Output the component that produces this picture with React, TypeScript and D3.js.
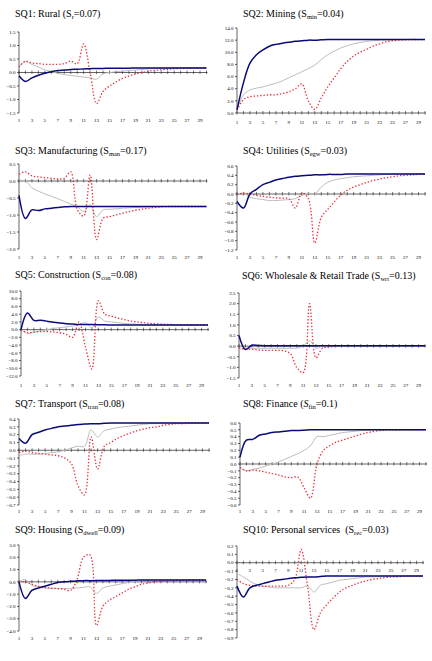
import React from "react";
import * as d3 from "d3";

// quarters after the shock
const periods = d3.range(1, 31);
const periodLabels = [1, 3, 5, 7, 9, 11, 13, 15, 17, 19, 21, 23, 25, 27, 29];

// SQ1 Rural
const ruralTicks = [1.5, 1.0, 0.5, 0.0, -0.5, -1.0, -1.5];
const ruralSolid = [-0.12, -0.33, -0.2, -0.1, -0.03, 0.03, 0.07, 0.09, 0.11, 0.12, 0.13, 0.14, 0.15, 0.15, 0.16, 0.16, 0.16, 0.16, 0.17, 0.17, 0.17, 0.17, 0.17, 0.17, 0.17, 0.17, 0.17, 0.17, 0.17, 0.17];
const ruralGrey = [0.22, 0.4, 0.3, 0.2, 0.1, 0.03, -0.03, -0.08, -0.11, -0.14, -0.17, -0.2, -0.25, -0.05, 0.0, 0.03, 0.05, 0.07, 0.09, 0.11, 0.13, 0.15, 0.16, 0.16, 0.17, 0.17, 0.17, 0.17, 0.17, 0.17];
const ruralDotted = [0.2, 0.42, 0.35, 0.33, 0.3, 0.3, 0.3, 0.33, 0.42, 0.32, 1.06, 0.0, -1.15, -0.7, -0.5, -0.35, -0.22, -0.13, -0.06, 0.0, 0.05, 0.08, 0.1, 0.12, 0.14, 0.15, 0.16, 0.17, 0.17, 0.17];

// SQ2 Mining
const miningTicks = [14, 12, 10, 8, 6, 4, 2, 0];
const miningSolid = [0.5, 5.0, 8.2, 9.6, 10.4, 11.0, 11.3, 11.5, 11.65, 11.8, 11.9, 12.0, 12.0, 12.05, 12.1, 12.1, 12.1, 12.1, 12.1, 12.1, 12.1, 12.1, 12.1, 12.1, 12.1, 12.1, 12.1, 12.1, 12.1, 12.1];
const miningGrey = [0.5, 3.0, 3.8, 4.1, 4.3, 4.6, 4.9, 5.3, 5.8, 6.3, 6.8, 7.3, 7.9, 8.8, 9.6, 10.2, 10.7, 11.1, 11.4, 11.6, 11.8, 11.9, 12.0, 12.0, 12.05, 12.1, 12.1, 12.1, 12.1, 12.1];
const miningDotted = [0.5, 2.2, 2.7, 2.8, 2.9, 3.0, 3.0, 3.2, 3.5, 4.0, 4.8, 2.0, 0.6, 2.5, 4.3, 5.8, 7.3, 8.5, 9.4, 10.0, 10.5, 11.0, 11.4, 11.7, 11.9, 12.0, 12.05, 12.1, 12.1, 12.1];

// SQ3 Manufacturing
const manufTicks = [0.5, 0.0, -0.5, -1.0, -1.5, -2.0];
const manufSolid = [-0.42, -1.1, -0.85, -0.87, -0.82, -0.8, -0.78, -0.76, -0.75, -0.75, -0.75, -0.75, -0.75, -0.75, -0.75, -0.75, -0.75, -0.75, -0.75, -0.75, -0.75, -0.75, -0.75, -0.75, -0.75, -0.75, -0.75, -0.75, -0.75, -0.75];
const manufGrey = [0.02, 0.0, -0.2, -0.3, -0.38, -0.45, -0.52, -0.6, -0.68, -0.75, -0.9, -0.7, -1.05, -0.85, -0.83, -0.82, -0.8, -0.79, -0.78, -0.77, -0.76, -0.75, -0.75, -0.75, -0.75, -0.75, -0.75, -0.75, -0.75, -0.75];
const manufDotted = [0.2, 0.27, 0.15, 0.12, 0.1, 0.08, 0.06, 0.08, 0.27, -0.83, -1.03, 0.18, -1.72, -1.1, -1.05, -1.0, -0.95, -0.9, -0.86, -0.83, -0.8, -0.78, -0.76, -0.75, -0.75, -0.75, -0.75, -0.75, -0.75, -0.75];

// SQ4 Utilities
const utilTicks = [0.6, 0.4, 0.2, 0.0, -0.2, -0.4, -0.6, -0.8, -1.0, -1.2];
const utilSolid = [-0.16, -0.3, 0.0, 0.1, 0.2, 0.25, 0.3, 0.33, 0.36, 0.38, 0.39, 0.4, 0.41, 0.41, 0.42, 0.42, 0.42, 0.43, 0.43, 0.43, 0.43, 0.43, 0.43, 0.43, 0.43, 0.43, 0.43, 0.43, 0.43, 0.43];
const utilGrey = [-0.02, 0.02, -0.07, -0.1, -0.12, -0.14, -0.14, -0.13, -0.12, -0.1, -0.03, 0.02, 0.0, 0.15, 0.25, 0.3, 0.33, 0.35, 0.37, 0.38, 0.39, 0.4, 0.41, 0.42, 0.42, 0.43, 0.43, 0.43, 0.43, 0.43];
const utilDotted = [-0.02, 0.02, 0.0, -0.03, -0.05, -0.07, -0.08, -0.09, -0.1, -0.3, 0.02, -0.1, -1.05, -0.5, -0.33, -0.17, -0.02, 0.08, 0.15, 0.2, 0.25, 0.29, 0.32, 0.35, 0.37, 0.39, 0.4, 0.41, 0.42, 0.43];

// SQ5 Construction
const constrTicks = [10, 8, 6, 4, 2, 0, -2, -4, -6, -8, -10, -12];
const constrSolid = [0.0, 4.3, 2.4, 2.4, 2.2, 1.9, 1.7, 1.55, 1.45, 1.35, 1.3, 1.3, 1.25, 1.25, 1.2, 1.2, 1.2, 1.2, 1.2, 1.2, 1.2, 1.2, 1.2, 1.2, 1.2, 1.2, 1.2, 1.2, 1.2, 1.2];
const constrGrey = [0.0, -1.0, -0.7, -0.3, 0.0, 0.3, 0.5, 0.7, 0.9, 1.3, 1.8, 0.5, 3.3, 2.2, 2.0, 1.8, 1.6, 1.5, 1.4, 1.3, 1.25, 1.2, 1.2, 1.2, 1.2, 1.2, 1.2, 1.2, 1.2, 1.2];
const constrDotted = [0.0, -0.8, -0.6, -0.5, -0.5, -0.6, -0.8, -1.2, -2.0, 2.0, -4.5, -10.2, 7.5, 4.0, 3.5, 3.0, 2.6, 2.2, 2.0, 1.8, 1.6, 1.5, 1.4, 1.35, 1.3, 1.25, 1.2, 1.2, 1.2, 1.2];

// SQ6 Wholesale & Retail Trade
const tradeTicks = [2.5, 2.0, 1.5, 1.0, 0.5, 0.0, -0.5, -1.0, -1.5];
const tradeSolid = [0.5, -0.16, 0.04, 0.03, 0.02, 0.02, 0.02, 0.02, 0.02, 0.02, 0.02, 0.02, 0.02, 0.02, 0.02, 0.02, 0.02, 0.02, 0.02, 0.02, 0.02, 0.02, 0.02, 0.02, 0.02, 0.02, 0.02, 0.02, 0.02, 0.02];
const tradeGrey = [-0.15, -0.1, -0.1, -0.1, -0.1, -0.1, -0.1, -0.1, -0.1, -0.1, 0.0, 0.25, -0.1, 0.0, 0.02, 0.02, 0.02, 0.02, 0.02, 0.02, 0.02, 0.02, 0.02, 0.02, 0.02, 0.02, 0.02, 0.02, 0.02, 0.02];
const tradeDotted = [-0.08, -0.15, -0.15, -0.18, -0.2, -0.2, -0.2, -0.22, -0.35, -1.0, -1.25, 2.0, -0.55, -0.1, -0.05, 0.0, 0.02, 0.02, 0.02, 0.02, 0.02, 0.02, 0.02, 0.02, 0.02, 0.02, 0.02, 0.02, 0.02, 0.02];

// SQ7 Transport
const transTicks = [0.4, 0.3, 0.2, 0.1, 0.0, -0.1, -0.2, -0.3, -0.4, -0.5, -0.6, -0.7];
const transSolid = [0.15, 0.09, 0.2, 0.23, 0.26, 0.28, 0.3, 0.31, 0.32, 0.33, 0.335, 0.34, 0.34, 0.345, 0.35, 0.35, 0.35, 0.35, 0.35, 0.35, 0.35, 0.35, 0.35, 0.35, 0.35, 0.35, 0.35, 0.35, 0.35, 0.35];
const transGrey = [-0.07, -0.05, -0.05, -0.05, -0.04, -0.03, -0.02, 0.0, 0.03, 0.05, 0.05, 0.26, 0.17, 0.25, 0.27, 0.29, 0.3, 0.31, 0.32, 0.33, 0.34, 0.34, 0.35, 0.35, 0.35, 0.35, 0.35, 0.35, 0.35, 0.35];
const transDotted = [-0.03, -0.01, -0.03, -0.04, -0.05, -0.06, -0.07, -0.1, -0.17, -0.45, -0.57, 0.17, -0.24, 0.05, 0.1, 0.15, 0.19, 0.22, 0.25, 0.27, 0.29, 0.3, 0.32, 0.33, 0.34, 0.34, 0.35, 0.35, 0.35, 0.35];

// SQ8 Finance
const finTicks = [0.6, 0.5, 0.4, 0.3, 0.2, 0.1, 0.0, -0.1, -0.2, -0.3, -0.4, -0.5, -0.6];
const finSolid = [0.1, 0.35, 0.36, 0.42, 0.44, 0.46, 0.47, 0.48, 0.49, 0.49, 0.495, 0.5, 0.5, 0.5, 0.5, 0.5, 0.5, 0.5, 0.5, 0.5, 0.5, 0.5, 0.5, 0.5, 0.5, 0.5, 0.5, 0.5, 0.5, 0.5];
const finGrey = [-0.05, -0.1, -0.08, -0.06, -0.03, 0.0, 0.03, 0.07, 0.11, 0.15, 0.2, 0.27, 0.4, 0.4, 0.42, 0.44, 0.46, 0.47, 0.48, 0.49, 0.49, 0.5, 0.5, 0.5, 0.5, 0.5, 0.5, 0.5, 0.5, 0.5];
const finDotted = [-0.05, -0.1, -0.09, -0.1, -0.12, -0.14, -0.16, -0.19, -0.2, -0.19, -0.35, -0.5, 0.0, 0.2, 0.27, 0.32, 0.35, 0.38, 0.41, 0.44, 0.46, 0.48, 0.49, 0.5, 0.5, 0.5, 0.5, 0.5, 0.5, 0.5];

// SQ9 Housing
const housTicks = [3, 2, 1, 0, -1, -2, -3, -4];
const housSolid = [0.0, -1.35, -0.7, -0.5, -0.35, -0.2, -0.05, 0.0, 0.05, 0.08, 0.1, 0.1, 0.11, 0.12, 0.12, 0.13, 0.13, 0.14, 0.14, 0.15, 0.15, 0.15, 0.15, 0.15, 0.15, 0.15, 0.15, 0.15, 0.15, 0.15];
const housGrey = [0.0, 0.2, -0.3, -0.4, -0.5, -0.55, -0.55, -0.55, -0.55, -0.5, -0.45, -0.4, -0.95, -0.5, -0.35, -0.25, -0.15, -0.05, 0.05, 0.1, 0.12, 0.13, 0.14, 0.15, 0.15, 0.15, 0.15, 0.15, 0.15, 0.15];
const housDotted = [0.0, 0.0, -0.2, -0.35, -0.45, -0.5, -0.55, -0.6, -0.7, 0.2, 2.0, 2.2, -3.55, -2.0, -1.5, -1.2, -0.9, -0.6, -0.4, -0.2, -0.1, 0.0, 0.05, 0.1, 0.1, 0.12, 0.13, 0.14, 0.15, 0.15];

// SQ10 Personal services
const recTicks = [0.2, 0.1, 0.0, -0.1, -0.2, -0.3, -0.4, -0.5, -0.6, -0.7, -0.8, -0.9];
const recSolid = [-0.28, -0.41, -0.3, -0.27, -0.25, -0.23, -0.21, -0.2, -0.19, -0.18, -0.175, -0.17, -0.17, -0.165, -0.16, -0.16, -0.16, -0.16, -0.16, -0.16, -0.16, -0.16, -0.16, -0.16, -0.16, -0.16, -0.16, -0.16, -0.16, -0.16];
const recGrey = [-0.13, -0.17, -0.22, -0.26, -0.28, -0.29, -0.3, -0.3, -0.3, -0.3, -0.3, -0.28, -0.35, -0.27, -0.25, -0.23, -0.21, -0.2, -0.19, -0.18, -0.17, -0.17, -0.165, -0.16, -0.16, -0.16, -0.16, -0.16, -0.16, -0.16];
const recDotted = [-0.2, -0.25, -0.27, -0.28, -0.28, -0.28, -0.28, -0.28, -0.27, -0.2, 0.16, -0.28, -0.8, -0.6, -0.5, -0.42, -0.35, -0.3, -0.27, -0.24, -0.22, -0.2, -0.19, -0.18, -0.17, -0.17, -0.16, -0.16, -0.16, -0.16];

type Panel = {
  head: string;
  sub: string;
  tail: string;
  italicS?: boolean;
  ticks: number[];
  solid: number[];
  grey: number[];
  dotted: number[];
  // layout: left/right plot edges, pixel rows of top/bottom tick, category label row, title origin
  x0: number;
  x1: number;
  yTop: number;
  yBot: number;
  labY: number | null;
  tx: number;
  ty: number;
};

const panels: Panel[] = [
  { head: "SQ1: Rural (", sub: "r", tail: "=0.07)", ticks: ruralTicks, solid: ruralSolid, grey: ruralGrey, dotted: ruralDotted, x0: 19, x1: 206.5, yTop: 32, yBot: 113, labY: 120, tx: 15, ty: 17 },
  { head: "SQ2: Mining (", sub: "min", tail: "=0.04)", ticks: miningTicks, solid: miningSolid, grey: miningGrey, dotted: miningDotted, x0: 237, x1: 425, yTop: 28, yBot: 113, labY: 122, tx: 243, ty: 17 },
  { head: "SQ3: Manufacturing (", sub: "man", tail: "=0.17)", ticks: manufTicks, solid: manufSolid, grey: manufGrey, dotted: manufDotted, x0: 19, x1: 206.5, yTop: 164, yBot: 249, labY: 257, tx: 15, ty: 154 },
  { head: "SQ4: Utilities (", sub: "egw", tail: "=0.03)", ticks: utilTicks, solid: utilSolid, grey: utilGrey, dotted: utilDotted, x0: 237, x1: 425, yTop: 166, yBot: 250, labY: 257, tx: 243, ty: 154 },
  { head: "SQ5: Construction (", sub: "con", tail: "=0.08)", ticks: constrTicks, solid: constrSolid, grey: constrGrey, dotted: constrDotted, x0: 21, x1: 208, yTop: 291, yBot: 376, labY: 385, tx: 15, ty: 278 },
  { head: "SQ6: Wholesale & Retail Trade (", sub: "wrt", tail: "=0.13)", ticks: tradeTicks, solid: tradeSolid, grey: tradeGrey, dotted: tradeDotted, x0: 239, x1: 425, yTop: 293, yBot: 378, labY: 385, tx: 242, ty: 279 },
  { head: "SQ7: Transport (", sub: "tran", tail: "=0.08)", ticks: transTicks, solid: transSolid, grey: transGrey, dotted: transDotted, x0: 19, x1: 209, yTop: 419, yBot: 505, labY: 511, tx: 15, ty: 407 },
  { head: "SQ8: Finance (", sub: "fin", tail: "=0.1)", italicS: true, ticks: finTicks, solid: finSolid, grey: finGrey, dotted: finDotted, x0: 240, x1: 426, yTop: 423, yBot: 505, labY: 511, tx: 243, ty: 407 },
  { head: "SQ9: Housing (", sub: "dwell", tail: "=0.09)", ticks: housTicks, solid: housSolid, grey: housGrey, dotted: housDotted, x0: 19, x1: 206, yTop: 545, yBot: 631, labY: 638, tx: 15, ty: 533 },
  { head: "SQ10: Personal services\u00a0\u00a0(", sub: "rec", tail: "=0.03)", ticks: recTicks, solid: recSolid, grey: recGrey, dotted: recDotted, x0: 237, x1: 423, yTop: 546, yBot: 638, labY: null, tx: 243, ty: 533 },
];

const serif = "Liberation Serif";
const fmt = d3.format(".1f");

const ChartPanel = ({ p }: { p: Panel }) => {
  const x = d3.scaleLinear().domain([1, 30]).range([p.x0, p.x1]);
  const y = d3
    .scaleLinear()
    .domain([d3.min(p.ticks)!, d3.max(p.ticks)!])
    .range([p.yBot, p.yTop]);
  const line = d3
    .line<number>()
    .x((_, i) => x(periods[i]))
    .y((d) => y(d))
    .curve(d3.curveCatmullRom.alpha(0.5));
  const zeroY = y(0);
  const labY = p.labY ?? zeroY + 8;

  return (
    <g style={{ fontFamily: serif }}>
      <text x={p.tx} y={p.ty} fontSize={10} fill="#000">
        {p.head}
        <tspan fontStyle={p.italicS ? "italic" : "normal"}>S</tspan>
        <tspan fontSize={6.5} dy={2}>{p.sub}</tspan>
        <tspan dy={-2}>{p.tail}</tspan>
      </text>

      {/* value axis */}
      <line x1={p.x0} x2={p.x0} y1={p.yTop} y2={p.yBot} stroke="#222" strokeWidth={0.7} />
      {p.ticks.map((t) => (
        <g key={t}>
          <line x1={p.x0 - 2} x2={p.x0} y1={y(t)} y2={y(t)} stroke="#222" strokeWidth={0.7} />
          <text x={p.x0 - 3.5} y={y(t)} dy="0.35em" textAnchor="end" fontSize={5} fill="#000">
            {fmt(t)}
          </text>
        </g>
      ))}

      {/* category axis along zero */}
      <line x1={p.x0} x2={p.x1 + 1} y1={zeroY} y2={zeroY} stroke="#222" strokeWidth={0.7} />
      {periods.map((k) => (
        <line key={k} x1={x(k)} x2={x(k)} y1={zeroY - 2} y2={zeroY + 1.5} stroke="#222" strokeWidth={0.6} />
      ))}
      {periodLabels.map((k) => (
        <text key={k} x={x(k)} y={labY} dy="0.35em" textAnchor="middle" fontSize={5} fill="#000">
          {k}
        </text>
      ))}

      <path d={line(p.grey)!} fill="none" stroke="#bdbdbd" strokeWidth={1} />
      <path d={line(p.dotted)!} fill="none" stroke="#e8323a" strokeWidth={1.3} strokeDasharray="1.4 1.9" />
      <path d={line(p.solid)!} fill="none" stroke="#0a0a78" strokeWidth={1.5} />
    </g>
  );
};

export default function App() {
  return (
    <svg
      width={432}
      height={661}
      viewBox="0 0 432 661"
      style={{ position: "absolute", left: 0, top: 0, background: "#fff" }}
    >
      <rect width={432} height={661} fill="#fff" />
      {panels.map((p) => (
        <ChartPanel key={p.head} p={p} />
      ))}
    </svg>
  );
}
